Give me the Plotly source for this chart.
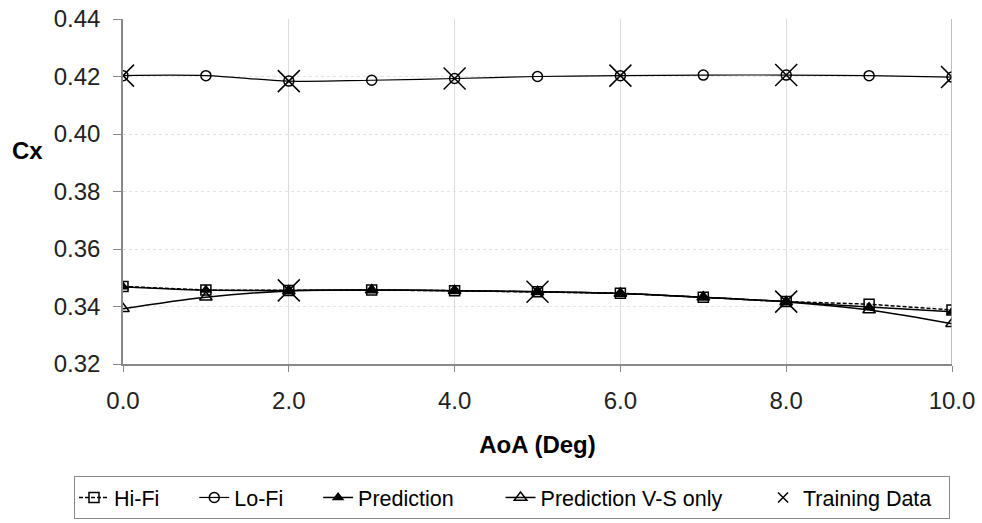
import plotly.graph_objects as go

aoa = [0, 1, 2, 3, 4, 5, 6, 7, 8, 9, 10]
hifi = [0.3470, 0.3457, 0.3456, 0.3457, 0.3455, 0.3451, 0.3446, 0.3432, 0.3417, 0.3408, 0.3388]
lofi = [0.4203, 0.4203, 0.4184, 0.4187, 0.4193, 0.4200, 0.4203, 0.4205, 0.4205, 0.4203, 0.4198]
prediction = [0.3469, 0.3457, 0.3456, 0.3457, 0.3455, 0.3451, 0.3445, 0.3432, 0.3417, 0.3398, 0.3382]
prediction_vs = [0.3392, 0.3432, 0.3454, 0.3457, 0.3455, 0.3451, 0.3445, 0.3432, 0.3416, 0.3388, 0.3340]
train_aoa = [0, 2, 4, 6, 8, 10, 2, 5, 8]
train_cx = [0.4203, 0.4184, 0.4193, 0.4203, 0.4205, 0.4198, 0.3456, 0.3451, 0.3417]
xtick_vals = [0, 2, 4, 6, 8, 10]
xtick_text = ["0.0", "2.0", "4.0", "6.0", "8.0", "10.0"]

NB = "\u00a0"
font = "Liberation Sans, Arial, sans-serif"
fig = go.Figure()
fig.add_trace(go.Scatter(x=aoa, y=hifi, name="Hi-Fi" + NB * 5, mode="lines+markers",
                         line=dict(color="black", width=1.5, dash="4px,2px"),
                         marker=dict(symbol="square-open", size=10, color="black", line=dict(width=1.5))))
fig.add_trace(go.Scatter(x=aoa, y=lofi, name="Lo-Fi" + NB * 5, mode="lines+markers",
                         line=dict(color="black", width=1.2, shape="spline"),
                         marker=dict(symbol="circle-open", size=10, color="black", line=dict(width=1.5))))
fig.add_trace(go.Scatter(x=aoa, y=prediction, name="Prediction" + NB * 7, mode="lines+markers",
                         line=dict(color="black", width=1.5, shape="spline"),
                         marker=dict(symbol="triangle-up", size=11, color="black")))
fig.add_trace(go.Scatter(x=aoa, y=prediction_vs, name="Prediction V-S only" + NB * 6, mode="lines+markers",
                         line=dict(color="black", width=1.5, shape="spline"),
                         marker=dict(symbol="triangle-up-open", size=11, color="black", line=dict(width=1.5))))
fig.add_trace(go.Scatter(x=train_aoa, y=train_cx, name="Training Data", mode="markers", showlegend=False,
                         legendgroup="train",
                         marker=dict(symbol="x-thin-open", size=22, color="black", line=dict(width=1.5, color="black"))))
fig.add_trace(go.Scatter(x=[None], y=[None], name="Training Data" + NB * 2, mode="markers", legendgroup="train",
                         marker=dict(symbol="x-thin-open", size=10, color="black", line=dict(width=1.5, color="black"))))

fig.update_layout(
    width=982, height=523,
    paper_bgcolor="white", plot_bgcolor="white",
    margin=dict(l=123, r=30, t=19, b=159, autoexpand=False),
    font=dict(family=font, size=24, color="#222"),
    showlegend=True,
    legend=dict(orientation="h", xref="paper", yref="paper", x=-0.0591, xanchor="left",
                y=-0.3246, yanchor="top",
                bordercolor="#888", borderwidth=1, font=dict(size=21.5, color="black"),
                itemwidth=30, tracegroupgap=0),
)
fig.update_xaxes(range=[0, 10], tickvals=xtick_vals, ticktext=xtick_text, automargin=False,
                 ticklabeloverflow="allow",
                 showgrid=True, gridcolor="#dddddd", gridwidth=1,
                 showline=True, linecolor="#888", linewidth=1.5, ticks="outside", ticklen=6, tickcolor="#888",
                 ticklabelstandoff=8,
                 title=dict(text="<b>AoA (Deg)</b>", font=dict(size=24, color="black"), standoff=24),
                 zeroline=False, mirror=False)
fig.update_yaxes(range=[0.32, 0.44], dtick=0.02, tickformat=".2f", automargin=False,
                 ticklabeloverflow="allow",
                 showgrid=True, gridcolor="#e4e4e4", gridwidth=1, griddash="dot",
                 showline=True, linecolor="#888", linewidth=1.5, ticks="outside", ticklen=8, tickcolor="#888",
                 ticklabelstandoff=8,
                 zeroline=False)
fig.add_annotation(text="<b>Cx</b>", xref="paper", yref="paper", x=-0.1146, y=0.62, showarrow=False,
                   font=dict(size=24, color="black"), xanchor="center", yanchor="middle")
fig.add_shape(type="line", xref="x", yref="paper", x0=10, x1=10, y0=0, y1=1, line=dict(color="#aaa", width=1.5))
fig.write_html("out.html", config={"displayModeBar": False},
               post_script="document.body.style.margin='0px';")
